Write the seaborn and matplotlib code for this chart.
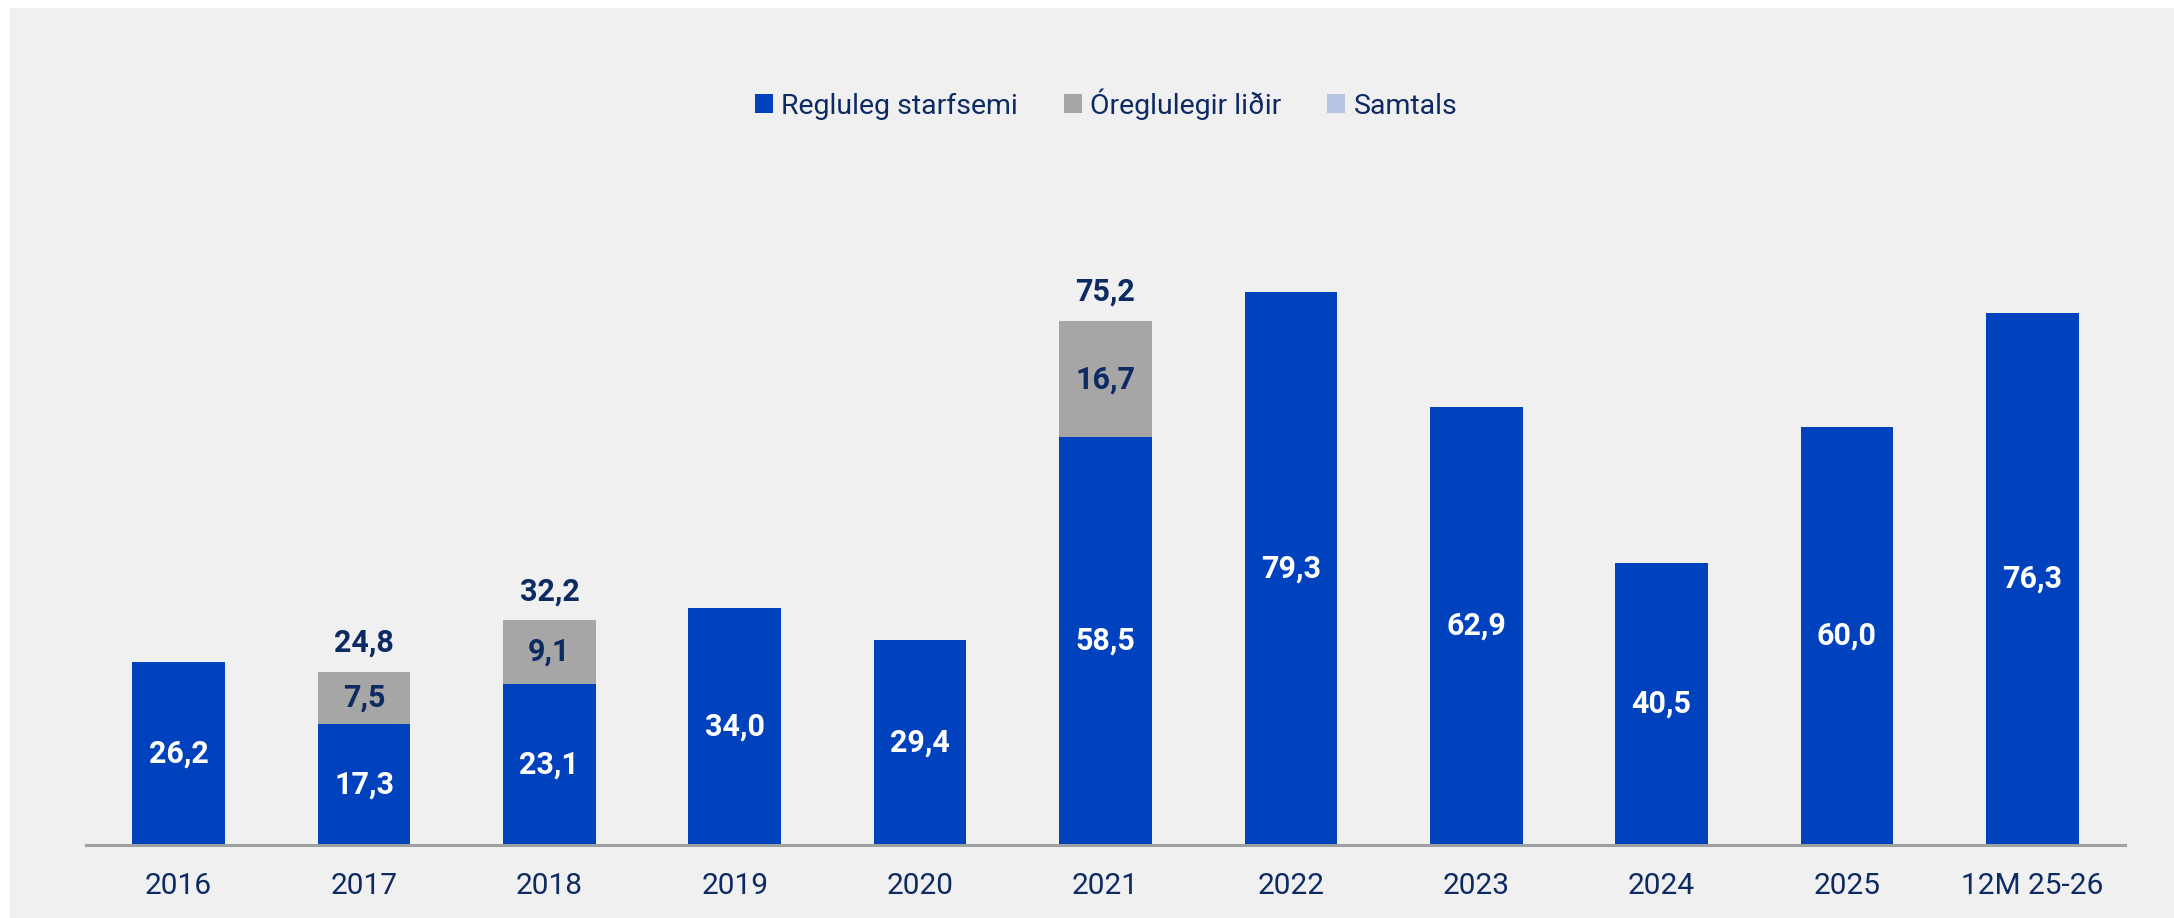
import numpy as np
import pandas as pd
import matplotlib
matplotlib.use("Agg")
import matplotlib.pyplot as plt
from matplotlib.patches import Patch, Rectangle
import seaborn as sns

categories = ['2016', '2017', '2018', '2019', '2020', '2021', '2022', '2023', '2024', '2025', '12M 25-26']
regluleg = [26.2, 17.3, 23.1, 34.0, 29.4, 58.5, 79.3, 62.9, 40.5, 60.0, 76.3]
oreglulegir = [0.0, 7.5, 9.1, 0.0, 0.0, 16.7, 0.0, 0.0, 0.0, 0.0, 0.0]
samtals = [None, 24.8, 32.2, None, None, 75.2, None, None, None, None, None]
legend_labels = ['Regluleg starfsemi', 'Óreglulegir liðir', 'Samtals']

BLUE = '#0041BD'
GRAY = '#A6A6A6'
LAV = '#B8C4E2'
NAVY = '#0D2A63'
BG = '#EFF0EF'

sns.set_theme(style='white')
plt.rcParams['font.family'] = ['Roboto', 'DejaVu Sans']

df = pd.DataFrame({
    'cat': categories,
    'regluleg': regluleg,
    'oreglulegir': oreglulegir,
})
df['stack'] = df['regluleg'] + df['oreglulegir']

W, H = 2174, 918
fig = plt.figure(figsize=(W / 100, H / 100), dpi=100)
fig.patch.set_facecolor('white')
fig.add_artist(Rectangle((10 / W, 0), 1, (H - 8) / H, transform=fig.transFigure,
                         facecolor=BG, edgecolor='none', zorder=-10))

ax = fig.add_axes([86 / W, (H - 844.5) / H, (2125 - 86) / W, (844.5 - 218) / H])
ax.set_facecolor('none')

sns.barplot(data=df, x='cat', y='stack', color=GRAY, width=0.5, saturation=1,
            errorbar=None, linewidth=0, ax=ax)
sns.barplot(data=df, x='cat', y='regluleg', color=BLUE, width=0.5, saturation=1,
            errorbar=None, linewidth=0, ax=ax)

ax.set_xlim(-0.5, len(categories) - 0.5)
ax.set_ylim(0, 90)
ax.set_xlabel('')
ax.set_ylabel('')
ax.set_yticks([])
for s in ['top', 'right', 'left']:
    ax.spines[s].set_visible(False)
ax.spines['bottom'].set_color('#9EA1A4')
ax.spines['bottom'].set_linewidth(2.2)
ax.tick_params(axis='x', length=0, pad=20, labelsize=21.5, labelcolor=NAVY)

def fmt(v):
    return f'{v:.1f}'.replace('.', ',')

for i, (r, o, t) in enumerate(zip(regluleg, oreglulegir, samtals)):
    ax.text(i, r / 2, fmt(r), ha='center', va='center', color='white',
            fontsize=22, fontweight='bold')
    if o > 0:
        ax.text(i, r + o / 2, fmt(o), ha='center', va='center', color=NAVY,
                fontsize=22, fontweight='bold')
    if t is not None:
        ax.annotate(fmt(t), (i, r + o), xytext=(0, 14.5), textcoords='offset points',
                    ha='center', va='baseline', color=NAVY, fontsize=22, fontweight='bold')

handles = [Patch(facecolor=c, edgecolor='none') for c in (BLUE, GRAY, LAV)]
leg = fig.legend(handles, legend_labels, loc='center', bbox_to_anchor=(1106 / W, (H - 104) / H),
                 ncol=3, frameon=False, fontsize=20.5, handlelength=0.63, handleheight=0.63,
                 handletextpad=0.3, columnspacing=1.6)
for txt in leg.get_texts():
    txt.set_color(NAVY)

fig.savefig('out.png', dpi=100, facecolor=fig.get_facecolor())
